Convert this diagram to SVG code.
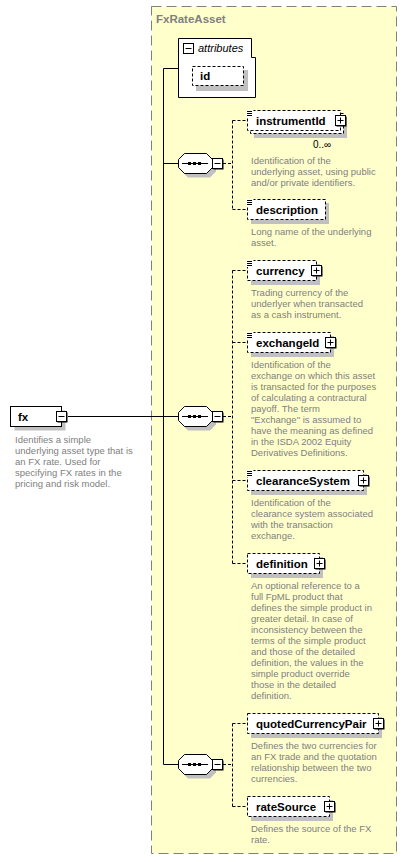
<svg xmlns="http://www.w3.org/2000/svg" xmlns:xlink="http://www.w3.org/1999/xlink" width="407" height="862" viewBox="0 0 407 862">
<style>
.bg{fill:#ffffcc;stroke:#808080;stroke-dasharray:10,5}
.title{font-family:"Liberation Sans",Arial,sans-serif;font-weight:bold;font-size:11.5px;fill:#808080}
.elem{fill:#fff;stroke:#000;stroke-dasharray:3,2}
.solid{fill:#fff;stroke:#000}
.shadow{fill:#c0c0c0}
.lbl{font-family:"Liberation Sans",Arial,sans-serif;font-weight:bold;font-size:11.5px;fill:#000}
.desc{font-family:"Liberation Sans",Arial,sans-serif;font-size:9.5px;fill:#808080}
.occ{font-family:"Liberation Sans",Arial,sans-serif;font-size:10px;fill:#000}
.ital{font-family:"Liberation Sans",Arial,sans-serif;font-style:italic;font-size:11px;fill:#000}
.conn{stroke:#000;fill:none}
.dconn{stroke:#000;fill:none;stroke-dasharray:3,2}
.icon{stroke:#000;fill:none}
</style>
<defs>
<g id="minus"><rect x="1.5" y="1.5" width="10" height="10" fill="#000"/><rect x="0.5" y="0.5" width="10" height="10" fill="#fff" stroke="#000"/><path d="M2.5,5.5H8.5" stroke="#000"/></g>
<g id="plus"><rect x="1.5" y="1.5" width="10" height="10" fill="#000"/><rect x="0.5" y="0.5" width="10" height="10" fill="#fff" stroke="#000"/><path d="M2.5,5.5H8.5M5.5,2.5V8.5" stroke="#000"/></g>
<g id="seq">
<polygon points="188,-6 210,-6 216,0 216,8 210,14 188,14 182,8 182,0" class="shadow"/>
<polygon points="184.5,-10 206.5,-10 212.5,-4 212.5,4 206.5,10 184.5,10 178.5,4 178.5,-4" class="solid"/>
<path d="M182,0H208" stroke="#000"/>
<rect x="188" y="-1.5" width="3" height="3" fill="#000"/>
<rect x="193" y="-1.5" width="3" height="3" fill="#000"/>
<rect x="198" y="-1.5" width="3" height="3" fill="#000"/>
</g>
<g id="ico"><rect x="246.5" y="0" width="7" height="7" fill="#fff"/><path d="M247,1.5H252M247,3.5H252M247,5.5H252" class="icon"/></g>
</defs>
<rect x="0" y="0" width="407" height="862" fill="#fff"/>
<g id="FxRateAsset">
<rect x="151.5" y="6.5" width="245" height="847" class="bg"/>
<text x="156" y="22.5" class="title">FxRateAsset</text>
</g>
<g id="connectors">
<path d="M163.5,68.5H178.5M163.5,68.5V764.5M68,416.5H178.5M163.5,163.5H178.5M163.5,764.5H178.5" class="conn"/>
<path d="M223,163.5H232.5M232.5,120.5V209.5M232.5,120.5H247.5M232.5,209.5H247.5" class="dconn"/>
<path d="M223,416.5H232.5M232.5,270.5V563.5M232.5,270.5H247.5M232.5,342.5H247.5M232.5,480.5H247.5M232.5,563.5H247.5" class="dconn"/>
<path d="M223,764.5H232.5M232.5,723.5V806.5M232.5,723.5H247.5M232.5,806.5H247.5" class="dconn"/>
</g>
<g id="attributes">
<path d="M178.5,38.5H251.5V57.5H255.5V97.5H178.5Z" class="solid"/>
<rect x="183.5" y="43.5" width="10" height="10" class="solid"/>
<path d="M185.5,48.5H191.5" stroke="#000"/>
<text x="198" y="52" class="ital">attributes</text>
</g>
<g id="id">
<rect x="196" y="70" width="52" height="21" class="shadow"/>
<rect x="192.5" y="66.5" width="51" height="19" class="elem"/>
<text x="200" y="80" class="lbl">id</text>
</g>
<g id="fx">
<rect x="14.5" y="410.5" width="51" height="20" class="shadow"/>
<rect x="10.5" y="406.5" width="51" height="20" class="solid"/>
<text x="18" y="420.5" class="lbl">fx</text>
<use xlink:href="#minus" x="56" y="411"/>
<text class="desc"><tspan x="15" y="442.5">Identifies a simple</tspan><tspan x="15" y="453.5">underlying asset type that is</tspan><tspan x="15" y="464.5">an FX rate. Used for</tspan><tspan x="15" y="475.5">specifying FX rates in the</tspan><tspan x="15" y="486.5">pricing and risk model.</tspan></text>
</g>
<g id="sequence1">
<use xlink:href="#seq" x="0" y="163.5"/>
<use xlink:href="#minus" x="212" y="158"/>
</g>
<g id="sequence2">
<use xlink:href="#seq" x="0" y="416.5"/>
<use xlink:href="#minus" x="212" y="411"/>
</g>
<g id="sequence3">
<use xlink:href="#seq" x="0" y="764.5"/>
<use xlink:href="#minus" x="212" y="759"/>
</g>
<g id="instrumentId">
<rect x="254" y="117" width="93" height="21" class="shadow"/>
<rect x="250.5" y="113.5" width="93" height="20" class="elem"/>
<rect x="247.5" y="110.5" width="93" height="20" class="elem"/>
<use xlink:href="#ico" x="0" y="110"/>
<text x="256" y="124.5" class="lbl">instrumentId</text>
<use xlink:href="#plus" x="335" y="115"/>
<text x="313" y="148" class="occ">0..∞</text>
<text class="desc"><tspan x="251" y="163.5">Identification of the</tspan><tspan x="251" y="174.5">underlying asset, using public</tspan><tspan x="251" y="185.5">and/or private identifiers.</tspan></text>
</g>
<g id="description">
<rect x="251" y="203" width="78" height="21" class="shadow"/>
<rect x="247.5" y="199.5" width="78" height="20" class="elem"/>
<use xlink:href="#ico" x="0" y="199"/>
<text x="256" y="213.5" class="lbl">description</text>
<text class="desc"><tspan x="251" y="235">Long name of the underlying</tspan><tspan x="251" y="246">asset.</tspan></text>
</g>
<g id="currency">
<rect x="251" y="264" width="69" height="21" class="shadow"/>
<rect x="247.5" y="260.5" width="69" height="20" class="elem"/>
<use xlink:href="#ico" x="0" y="260"/>
<text x="256" y="274.5" class="lbl">currency</text>
<use xlink:href="#plus" x="311" y="265"/>
<text class="desc"><tspan x="251" y="296">Trading currency of the</tspan><tspan x="251" y="307">underlyer when transacted</tspan><tspan x="251" y="318">as a cash instrument.</tspan></text>
</g>
<g id="exchangeId">
<rect x="251" y="336" width="83" height="21" class="shadow"/>
<rect x="247.5" y="332.5" width="83" height="20" class="elem"/>
<use xlink:href="#ico" x="0" y="332"/>
<text x="256" y="346.5" class="lbl">exchangeId</text>
<use xlink:href="#plus" x="325" y="337"/>
<text class="desc"><tspan x="251" y="368">Identification of the</tspan><tspan x="251" y="379">exchange on which this asset</tspan><tspan x="251" y="390">is transacted for the purposes</tspan><tspan x="251" y="401">of calculating a contractural</tspan><tspan x="251" y="412">payoff. The term</tspan><tspan x="251" y="423">"Exchange" is assumed to</tspan><tspan x="251" y="434">have the meaning as defined</tspan><tspan x="251" y="445">in the ISDA 2002 Equity</tspan><tspan x="251" y="456">Derivatives Definitions.</tspan></text>
</g>
<g id="clearanceSystem">
<rect x="251" y="474" width="116" height="21" class="shadow"/>
<rect x="247.5" y="470.5" width="116" height="20" class="elem"/>
<use xlink:href="#ico" x="0" y="470"/>
<text x="256" y="484.5" class="lbl">clearanceSystem</text>
<use xlink:href="#plus" x="358" y="475"/>
<text class="desc"><tspan x="251" y="506">Identification of the</tspan><tspan x="251" y="517">clearance system associated</tspan><tspan x="251" y="528">with the transaction</tspan><tspan x="251" y="539">exchange.</tspan></text>
</g>
<g id="definition">
<rect x="251" y="557" width="72" height="21" class="shadow"/>
<rect x="247.5" y="553.5" width="72" height="20" class="elem"/>
<text x="256" y="567.5" class="lbl">definition</text>
<use xlink:href="#plus" x="314" y="558"/>
<text class="desc"><tspan x="251" y="589">An optional reference to a</tspan><tspan x="251" y="600">full FpML product that</tspan><tspan x="251" y="611">defines the simple product in</tspan><tspan x="251" y="622">greater detail. In case of</tspan><tspan x="251" y="633">inconsistency between the</tspan><tspan x="251" y="644">terms of the simple product</tspan><tspan x="251" y="655">and those of the detailed</tspan><tspan x="251" y="666">definition, the values in the</tspan><tspan x="251" y="677">simple product override</tspan><tspan x="251" y="688">those in the detailed</tspan><tspan x="251" y="699">definition.</tspan></text>
</g>
<g id="quotedCurrencyPair">
<rect x="251" y="717" width="131" height="21" class="shadow"/>
<rect x="247.5" y="713.5" width="131" height="20" class="elem"/>
<text x="256" y="727.5" class="lbl">quotedCurrencyPair</text>
<use xlink:href="#plus" x="373" y="718"/>
<text class="desc"><tspan x="251" y="749">Defines the two currencies for</tspan><tspan x="251" y="760">an FX trade and the quotation</tspan><tspan x="251" y="771">relationship between the two</tspan><tspan x="251" y="782">currencies.</tspan></text>
</g>
<g id="rateSource">
<rect x="251" y="800" width="82" height="21" class="shadow"/>
<rect x="247.5" y="796.5" width="82" height="20" class="elem"/>
<text x="256" y="810.5" class="lbl">rateSource</text>
<use xlink:href="#plus" x="324" y="801"/>
<text class="desc"><tspan x="251" y="832">Defines the source of the FX</tspan><tspan x="251" y="843">rate.</tspan></text>
</g>
</svg>
